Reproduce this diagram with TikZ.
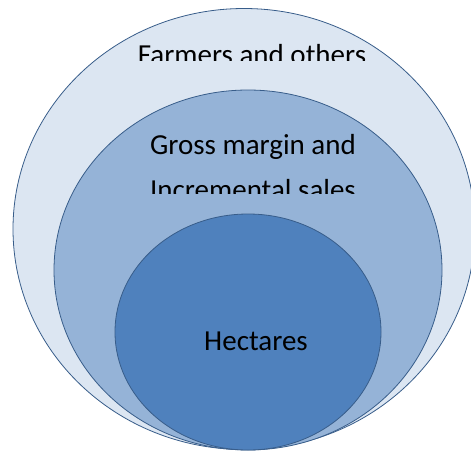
\documentclass[tikz,border=0pt]{standalone}
\usepackage{fontspec}
\setmainfont{Carlito}
\usetikzlibrary{shapes.geometric}
\definecolor{outerfill}{HTML}{DCE6F2}
\definecolor{midfill}{HTML}{95B3D7}
\definecolor{innerfill}{HTML}{4F81BD}
\definecolor{edgeblue}{HTML}{385D8A}
\tikzset{
  ring/.style={ellipse, draw=edgeblue, line width=0.8pt, inner sep=0pt},
  label/.style={font=\fontsize{29}{35}\selectfont, text=black, anchor=base, inner sep=0pt}
}
\begin{document}
\begin{tikzpicture}[x=1pt,y=-1pt]
\useasboundingbox (0,0) rectangle (471,452);
\clip (0,0) rectangle (471,452);
\node[ring, fill=outerfill, minimum width=462pt, minimum height=441pt] (outer) at (244,229) {};
\node[ring, fill=midfill, minimum width=388pt, minimum height=360pt] (middle) at (248,270) {};
\node[ring, fill=innerfill, minimum width=266pt, minimum height=236pt] (inner) at (248,332) {};
\begin{scope}
\clip (0,0) rectangle (471,61);
\node[label] (farmers) at (252,64) {Farmers and others};
\end{scope}
\node[label] (gross) at (253,154) {Gross margin and};
\begin{scope}
\clip (0,160) rectangle (471,193);
\node[label] (incr) at (253,199) {Incremental sales};
\end{scope}
\node[label] (hect) at (256,350) {Hectares};
\end{tikzpicture}
\end{document}
